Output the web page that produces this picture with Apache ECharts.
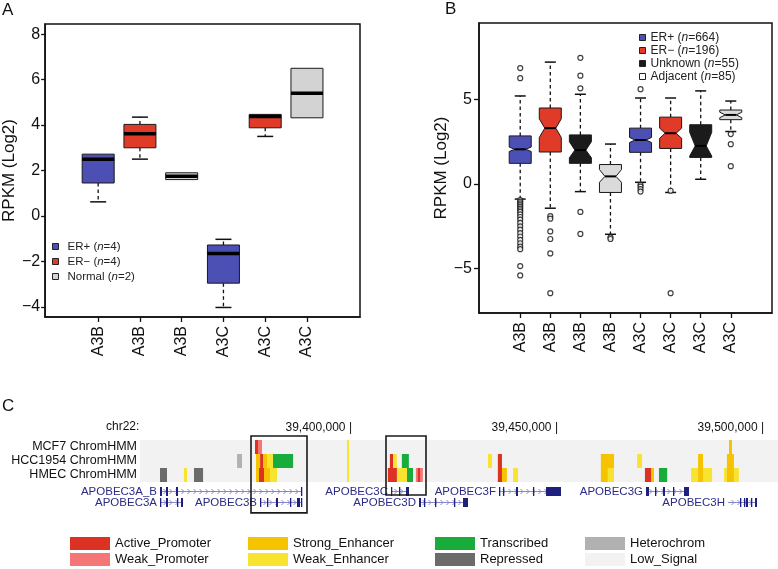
<!DOCTYPE html>
<html><head><meta charset="utf-8">
<script src="https://cdn.jsdelivr.net/npm/echarts@6/dist/echarts.min.js"></script>
<style>html,body{margin:0;padding:0;background:#fff}#c{width:778px;height:569px}</style>
</head><body><div id="c"></div>
<script>
// ---------- Panel A data ----------
const catsA   = ['A3B','A3B','A3B','A3C','A3C','A3C'];
const groupsA = ['ER+','ER−','Normal','ER+','ER−','Normal'];
const aLow  = [0.62, 2.50, 1.60, -4.03, 3.50, 4.32];
const aQ1   = [1.45, 3.00, 1.60, -2.96, 3.88, 4.32];
const aMed  = [2.50, 3.62, 1.75, -1.65, 4.38, 5.40];
const aQ3   = [2.72, 4.03, 1.90, -1.28, 4.47, 6.50];
const aHigh = [2.75, 4.35, 1.90, -1.03, 4.47, 6.50];
const legendNamesA = ['ER+','ER−','Normal'];
const legendNA = [4, 4, 2];
const yTicksA = [-4,-2,0,2,4,6,8];

// ---------- Panel B data ----------
const catsB   = ['A3B','A3B','A3B','A3B','A3C','A3C','A3C','A3C'];
const groupsB = ['ER+','ER−','Unknown','Adjacent','ER+','ER−','Unknown','Adjacent'];
const bLow     = [-0.89, -1.43, -0.45, -2.97, 0.10, -0.50, 0.28, 3.10];
const bQ1      = [1.22, 1.89, 1.22, -0.50, 1.87, 2.10, 1.57, 3.80];
const bMed     = [2.05, 3.30, 2.00, 0.45, 2.60, 3.00, 2.25, 4.08];
const bQ3      = [2.84, 4.49, 2.90, 1.15, 3.30, 3.95, 3.50, 4.37];
const bHigh    = [5.20, 7.20, 5.30, 2.36, 5.08, 5.08, 5.50, 4.90];
const bNotchLo = [1.92, 2.75, 1.55, 0.10, 2.45, 2.70, 1.65, 3.92];
const bNotchHi = [2.18, 3.85, 2.50, 0.85, 2.75, 3.30, 3.05, 4.24];
const bOutliers = [
  [6.25, 6.85, -0.95, -1.05, -1.15, -1.25, -1.35, -1.45, -1.55, -1.65, -1.8, -1.95, -2.1, -2.3, -2.5, -2.7, -2.9, -3.1, -3.3, -3.5, -3.7, -3.85, -4.85, -5.4],
  [-1.9, -2.05, -2.8, -3.25, -4.1, -6.45],
  [5.65, 6.4, 7.45, -1.65, -2.95],
  [-3.15, -3.25],
  [5.6, -0.05, -0.15, -0.3, -0.45],
  [-0.4, -6.45],
  [],
  [2.95, 2.35, 1.05]
];
const legendNamesB = ['ER+','ER−','Unknown','Adjacent'];
const legendNB = [664, 196, 55, 85];
const yTicksB = [-5, 0, 5];

// ---------- Panel C data ----------
const viewStart = 39348544, viewEnd = 39503398;
const coordTicks = [39400000, 39450000, 39500000];
const trackNames = ['MCF7 ChromHMM','HCC1954 ChromHMM','HMEC ChromHMM'];
const stateNames = ['Active_Promoter','Weak_Promoter','Strong_Enhancer','Weak_Enhancer','Transcribed','Repressed','Heterochrom','Low_Signal'];
// segments: start, end, track index, state
const segStart = [
  39348544, 39348544, 39348544,
  39376450, 39377200, 39398800, 39491500,
  39372100, 39376700, 39377700, 39378400, 39379400, 39380800, 39398800, 39409200, 39409950, 39412100, 39433000, 39435400, 39460400, 39469200, 39484000, 39491000,
  39353400, 39359200, 39361650, 39376700, 39377430, 39378650, 39380100, 39398800, 39408700, 39410900, 39413350, 39415500, 39416000, 39435400, 39436400, 39439100, 39460400, 39462100, 39471100, 39472600, 39474500, 39482300, 39484000, 39485200, 39490300, 39491000, 39492700
];
const segEnd = [
  39503398, 39503398, 39503398,
  39377200, 39378150, 39399270, 39492230,
  39373300, 39377700, 39378400, 39379400, 39380800, 39385700, 39399270, 39409950, 39410900, 39413800, 39434000, 39436400, 39463600, 39470400, 39485200, 39492700,
  39355100, 39359950, 39363850, 39377430, 39378650, 39380100, 39381800, 39399270, 39410900, 39413350, 39414800, 39417200, 39416500, 39436400, 39437600, 39440300, 39462100, 39463600, 39472600, 39473300, 39476500, 39484000, 39485200, 39487400, 39491000, 39492700, 39493900
];
const segTrack = [
  0, 1, 2,
  0, 0, 0, 0,
  1, 1, 1, 1, 1, 1, 1, 1, 1, 1, 1, 1, 1, 1, 1, 1,
  2, 2, 2, 2, 2, 2, 2, 2, 2, 2, 2, 2, 2, 2, 2, 2, 2, 2, 2, 2, 2, 2, 2, 2, 2, 2, 2
];
const segState = [
  'Low_Signal','Low_Signal','Low_Signal',
  'Active_Promoter','Weak_Promoter','Weak_Enhancer','Strong_Enhancer',
  'Heterochrom','Strong_Enhancer','Active_Promoter','Strong_Enhancer','Weak_Enhancer','Transcribed','Weak_Enhancer','Active_Promoter','Weak_Enhancer','Transcribed','Weak_Enhancer','Active_Promoter','Strong_Enhancer','Weak_Enhancer','Strong_Enhancer','Strong_Enhancer',
  'Repressed','Weak_Enhancer','Repressed','Strong_Enhancer','Active_Promoter','Strong_Enhancer','Weak_Enhancer','Weak_Enhancer','Active_Promoter','Weak_Enhancer','Transcribed','Weak_Promoter','Active_Promoter','Active_Promoter','Strong_Enhancer','Weak_Enhancer','Strong_Enhancer','Weak_Enhancer','Active_Promoter','Strong_Enhancer','Transcribed','Weak_Enhancer','Strong_Enhancer','Weak_Enhancer','Weak_Enhancer','Strong_Enhancer','Weak_Enhancer'
];
// genes
const geneNames = ['APOBEC3A_B','APOBEC3A','APOBEC3B','APOBEC3C','APOBEC3D','APOBEC3F','APOBEC3G','APOBEC3H'];
const geneStart = [39353400, 39353400, 39377670, 39409466, 39416262, 39435680, 39471360, 39491263];
const geneEnd   = [39387864, 39358980, 39387864, 39413835, 39428156, 39450728, 39481797, 39498302];
const geneLane  = [0, 1, 1, 0, 1, 0, 0, 1];
const geneExons = [
  [[39353400,39353883],[39354854,39355340],[39357282,39357767],[39387621,39387864]],
  [[39353400,39353640],[39354854,39355340],[39357524,39357767],[39358495,39358980]],
  [[39377670,39377913],[39379369,39379612],[39381553,39382039],[39384951,39385194],[39386650,39387379],[39387621,39387864]],
  [[39409466,39409709],[39411408,39411651],[39413107,39413835]],
  [[39416262,39416748],[39417476,39417719],[39420146,39420388],[39424757,39425000],[39426942,39428156]],
  [[39435680,39435922],[39436651,39436893],[39439806,39440292],[39443932,39444175],[39447088,39450728]],
  [[39471360,39472088],[39473544,39473787],[39475486,39475971],[39477913,39478156],[39480583,39481797]],
  [[39494175,39494418],[39495146,39495389],[39495632,39496117],[39496845,39497088],[39497816,39498302]]
];
// highlighted loci: start, end, gene lanes covered
const hlStart = [39375485, 39408252];
const hlEnd   = [39389078, 39417961];
const hlLanes = [2, 1];

// ---------- styles ----------
const FONT = 'Liberation Sans, Arial, Helvetica, sans-serif';
const groupColor = {'ER+':'#4c4fb4','ER−':'#e03a28','Normal':'#d3d3d3','Unknown':'#1b1b1b','Adjacent':'#dadada'};
const stateColor = {
  Active_Promoter:'#dc3223', Weak_Promoter:'#f57676', Strong_Enhancer:'#f6c300', Weak_Enhancer:'#f8e330',
  Transcribed:'#18ac3d', Repressed:'#6b6b6b', Heterochrom:'#b1b1b1', Low_Signal:'#f2f2f2'
};
const minus = v => v < 0 ? '−' + Math.abs(v) : String(v);

function boxRender(halfW, capHalf, medW, notched, fill) {
  return function (params, api) {
    const x = api.value(0);
    const yv = v => api.coord([x, v])[1];
    const cx = api.coord([x, api.value(3)])[0];
    const yLow = yv(api.value(1)), yQ1 = yv(api.value(2)), yMed = yv(api.value(3)),
          yQ3 = yv(api.value(4)), yHigh = yv(api.value(5));
    const ch = [];
    const dash = {stroke:'#111', lineWidth:1.3, lineDash:[3.5,3]};
    const cap = {stroke:'#111', lineWidth:1.5};
    if (yQ3 - yHigh > 0.8) {
      ch.push({type:'line', shape:{x1:cx,y1:yQ3,x2:cx,y2:yHigh}, style:dash});
      ch.push({type:'line', shape:{x1:cx-capHalf,y1:yHigh,x2:cx+capHalf,y2:yHigh}, style:cap});
    }
    if (yLow - yQ1 > 0.8) {
      ch.push({type:'line', shape:{x1:cx,y1:yQ1,x2:cx,y2:yLow}, style:dash});
      ch.push({type:'line', shape:{x1:cx-capHalf,y1:yLow,x2:cx+capHalf,y2:yLow}, style:cap});
    }
    let pts;
    if (notched) {
      const yNL = yv(api.value(6)), yNH = yv(api.value(7));
      pts = [[cx-halfW,yQ3],[cx+halfW,yQ3],[cx+halfW,yNH],[cx+halfW/2,yMed],[cx+halfW,yNL],[cx+halfW,yQ1],
             [cx-halfW,yQ1],[cx-halfW,yNL],[cx-halfW/2,yMed],[cx-halfW,yNH]];
    } else {
      pts = [[cx-halfW,yQ3],[cx+halfW,yQ3],[cx+halfW,yQ1],[cx-halfW,yQ1]];
    }
    ch.push({type:'polygon', shape:{points:pts}, style:{fill:fill, stroke:'#1a1a1a', lineWidth:1}});
    const mw = notched ? halfW/2 : halfW;
    ch.push({type:'line', shape:{x1:cx-mw,y1:yMed,x2:cx+mw,y2:yMed}, style:{stroke:'#000', lineWidth:medW}});
    return {type:'group', children:ch};
  };
}

const series = [];
// Panel A series
legendNamesA.forEach(g => {
  const data = [];
  groupsA.forEach((gg, i) => { if (gg === g) data.push([i+1, aLow[i], aQ1[i], aMed[i], aQ3[i], aHigh[i]]); });
  series.push({type:'custom', name:'A:'+g, xAxisIndex:0, yAxisIndex:0, itemStyle:{color:groupColor[g]},
    renderItem: boxRender(16, 8, 3.5, false, groupColor[g]), data, encode:{x:0, y:[1,2,3,4,5]}});
});
// Panel B series
legendNamesB.forEach(g => {
  const data = [];
  groupsB.forEach((gg, i) => { if (gg === g) data.push([i+1, bLow[i], bQ1[i], bMed[i], bQ3[i], bHigh[i], bNotchLo[i], bNotchHi[i]]); });
  series.push({type:'custom', name:'B:'+g, xAxisIndex:1, yAxisIndex:1,
    itemStyle:{color: g === 'Adjacent' ? '#ffffff' : groupColor[g]},
    renderItem: boxRender(11, 5.5, 2, true, groupColor[g]), data, encode:{x:0, y:[1,2,3,4,5]}});
});
const outData = [];
bOutliers.forEach((arr, i) => arr.forEach(v => outData.push([i+1, v])));
series.push({type:'scatter', name:'outliers', xAxisIndex:1, yAxisIndex:1, symbol:'circle', symbolSize:5,
  itemStyle:{color:'#fff', borderColor:'#111', borderWidth:1.2}, data:outData, silent:true, z:3});

// Panel C chromHMM series (one per state, Low_Signal first so it sits beneath)
const drawOrder = ['Low_Signal','Heterochrom','Repressed','Transcribed','Weak_Enhancer','Strong_Enhancer','Weak_Promoter','Active_Promoter'];
drawOrder.forEach(st => {
  const data = [];
  segState.forEach((s, i) => { if (s === st) data.push([segStart[i], segEnd[i], segTrack[i]]); });
  series.push({type:'custom', name:st, xAxisIndex:2, yAxisIndex:2, itemStyle:{color:stateColor[st]},
    renderItem: (params, api) => {
      const p0 = api.coord([api.value(0), api.value(2)]);
      const p1 = api.coord([api.value(1), api.value(2) + 1]);
      return {type:'rect', shape:{x:p0[0], y:p0[1], width:Math.max(1.5, p1[0]-p0[0]), height:p1[1]-p0[1]},
              style:{fill:stateColor[st]}};
    }, data, encode:{x:[0,1], y:2}});
});
// genes
const laneCenter = [3.61, 4.46];
series.push({type:'custom', name:'genes', xAxisIndex:2, yAxisIndex:2, silent:true,
  data: geneNames.map((n, i) => [geneStart[i], geneEnd[i], geneLane[i], i]),
  encode:{x:[0,1]},
  renderItem: (params, api) => {
    const i = api.value(3), yvv = laneCenter[api.value(2)];
    const p0 = api.coord([api.value(0), yvv]), p1 = api.coord([api.value(1), yvv]);
    const y = Math.round(p0[1]) + 0.5;
    const ch = [];
    const lc = '#8585c9';
    ch.push({type:'line', shape:{x1:p0[0], y1:y, x2:p1[0], y2:y}, style:{stroke:lc, lineWidth:1}});
    for (let x = p0[0] + 5; x < p1[0] - 2; x += 6) {
      ch.push({type:'polyline', shape:{points:[[x-1.5,y-2.5],[x+1,y],[x-1.5,y+2.5]]}, style:{stroke:lc, lineWidth:1, fill:null}});
    }
    geneExons[i].forEach(e => {
      const a = api.coord([e[0], yvv])[0], b = api.coord([e[1], yvv])[0];
      ch.push({type:'rect', shape:{x:a, y:y-4.5, width:Math.max(1.3, b-a), height:9}, style:{fill:'#1f1f7d'}});
    });
    ch.push({type:'text', x:p0[0]-3, y:y, style:{text:geneNames[i], fill:'#2b2b88', fontSize:11.5, fontFamily:FONT, align:'right', verticalAlign:'middle'}});
    return {type:'group', children:ch};
  }});
// highlight boxes
series.push({type:'custom', name:'highlight', xAxisIndex:2, yAxisIndex:2, silent:true, z:5,
  data: hlStart.map((s, i) => [s, hlEnd[i], hlLanes[i]]), encode:{x:[0,1]},
  renderItem: (params, api) => {
    const bottom = api.value(2) === 2 ? 5.21 : 3.93;
    const p0 = api.coord([api.value(0), -0.29]), p1 = api.coord([api.value(1), bottom]);
    return {type:'rect', shape:{x:p0[0], y:p0[1], width:p1[0]-p0[0], height:p1[1]-p0[1]},
            style:{fill:null, stroke:'#1a1a1a', lineWidth:1.6}};
  }});

const axisLineS = {show:true, onZero:false, lineStyle:{color:'#111', width:1.5}};
const richLeg = (fs, pad) => ({p:{fontSize:fs, color:'#222', padding:[0,0,0,pad]}, t:{fontSize:fs, color:'#222'}, i:{fontSize:fs, color:'#222', fontStyle:'italic'}});
const legFmt = (names, ns) => name => {
  const g = name.slice(2); const n = ns[names.indexOf(g)];
  return '{p|' + g + ' (}{i|n}{t|=' + n + ')}';
};

const option = {
  animation:false,
  textStyle:{fontFamily:FONT},
  grid:[
    {left:39, top:24, width:321, height:293, show:true, borderColor:'#111', borderWidth:1.5, backgroundColor:'#fff'},
    {left:479, top:23, width:293, height:290, show:true, borderColor:'#111', borderWidth:1.5, backgroundColor:'#fff'},
    {left:140, top:440, width:638, height:76}
  ],
  xAxis:[
    {gridIndex:0, type:'value', min:-0.27, max:7.27, axisLine:axisLineS, splitLine:{show:false},
     axisTick:{show:true, customValues:[1,2,3,4,5,6], length:5, lineStyle:{color:'#111', width:1.3}},
     axisLabel:{customValues:[1,2,3,4,5,6], formatter:v => catsA[Math.round(v)-1], rotate:90, fontSize:16, color:'#111', margin:9}},
    {gridIndex:1, type:'value', min:-0.37, max:9.37, axisLine:axisLineS, splitLine:{show:false},
     axisTick:{show:true, customValues:[1,2,3,4,5,6,7,8], length:5, lineStyle:{color:'#111', width:1.3}},
     axisLabel:{customValues:[1,2,3,4,5,6,7,8], formatter:v => catsB[Math.round(v)-1], rotate:90, fontSize:16, color:'#111', margin:9}},
    {gridIndex:2, type:'value', position:'top', min:viewStart, max:viewEnd, axisLine:{show:false}, axisTick:{show:false}, splitLine:{show:false},
     axisLabel:{customValues:coordTicks, formatter:v => Number(v).toLocaleString('en-US') + ' |', align:'right', fontSize:12, color:'#111', margin:6}}
  ],
  yAxis:[
    {gridIndex:0, type:'value', min:-4.45, max:8.45, axisLine:axisLineS, splitLine:{show:false},
     axisTick:{show:true, customValues:yTicksA, length:4, lineStyle:{color:'#111', width:1.3}},
     axisLabel:{customValues:yTicksA, formatter:minus, fontSize:16, color:'#111', margin:5},
     name:'RPKM (Log2)', nameLocation:'middle', nameGap:21, nameTextStyle:{fontSize:17, color:'#111'}},
    {gridIndex:1, type:'value', min:-7.62, max:9.51, axisLine:axisLineS, splitLine:{show:false},
     axisTick:{show:true, customValues:yTicksB, length:5, lineStyle:{color:'#111', width:1.3}},
     axisLabel:{customValues:yTicksB, formatter:minus, fontSize:16, color:'#111', margin:7},
     name:'RPKM (Log2)', nameLocation:'middle', nameGap:21, nameTextStyle:{fontSize:17, color:'#111'}},
    {gridIndex:2, type:'value', min:0, max:5.43, inverse:true, axisLine:{show:false}, axisTick:{show:false}, splitLine:{show:false},
     axisLabel:{customValues:[0.5,1.5,2.5], formatter:v => trackNames[Math.floor(v)], fontSize:12.5, color:'#111', margin:3}}
  ],
  legend:[
    {left:52, top:240, orient:'vertical', padding:0, icon:'rect', itemWidth:6, itemHeight:6, itemGap:2,
     itemStyle:{borderColor:'#222', borderWidth:1}, selectedMode:false,
     data:legendNamesA.map(g => 'A:'+g), formatter:legFmt(legendNamesA, legendNA),
     textStyle:{fontSize:11.5, lineHeight:13, color:'#222', rich:richLeg(11.5, 4)}},
    {left:639, top:31, orient:'vertical', padding:0, icon:'rect', itemWidth:6, itemHeight:6, itemGap:0,
     itemStyle:{borderColor:'#222', borderWidth:1}, selectedMode:false,
     data:legendNamesB.map(g => 'B:'+g), formatter:legFmt(legendNamesB, legendNB),
     textStyle:{fontSize:12, lineHeight:13, color:'#222', rich:richLeg(12, 0)}},
    ...[[70,['Active_Promoter','Weak_Promoter']],[248,['Strong_Enhancer','Weak_Enhancer']],[435,['Transcribed','Repressed']],[585,['Heterochrom','Low_Signal']]]
      .map(([l, d]) => ({left:l, top:537, orient:'vertical', padding:0, icon:'rect', itemWidth:40, itemHeight:13, itemGap:3,
        selectedMode:false, data:d, textStyle:{fontSize:13, lineHeight:13, color:'#111'}}))
  ],
  graphic:[
    {type:'text', left:2, top:2, style:{text:'A', fontSize:17, fill:'#111', fontFamily:FONT}},
    {type:'text', left:445, top:1, style:{text:'B', fontSize:17, fill:'#111', fontFamily:FONT}},
    {type:'text', left:2, top:398, style:{text:'C', fontSize:17, fill:'#111', fontFamily:FONT}},
    {type:'text', left:106, top:421, style:{text:'chr22:', fontSize:12, fill:'#111', fontFamily:FONT}}
  ],
  series
};
const chart = echarts.init(document.getElementById('c'), null, {renderer:'canvas'});
chart.setOption(option);
</script></body></html>
